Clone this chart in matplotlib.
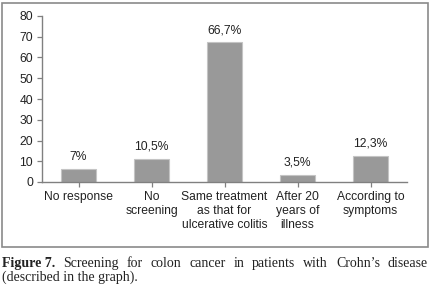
import matplotlib
matplotlib.use("Agg")
import matplotlib.pyplot as plt
from matplotlib.patches import Rectangle

categories = [
    "No response",
    "No\nscreening",
    "Same treatment\nas that for\nulcerative colitis",
    "After 20\nyears of\nillness",
    "According to\nsymptoms",
]
bar_values = [6.3, 11.0, 67.3, 3.4, 12.5]
bar_labels = ["7%", "10,5%", "66,7%", "3,5%", "12,3%"]
y_ticks = [0, 10, 20, 30, 40, 50, 60, 70, 80]
caption_bold = "Figure 7."
caption_line1 = "Screening for colon cancer in patients with Crohn\u2019s disease"
caption_line2 = "(described in the graph)."

W, H = 430, 303
fig = plt.figure(figsize=(W / 100, H / 100), dpi=100)
fig.patch.set_facecolor("white")

sans = ["Liberation Sans", "DejaVu Sans"]
serif = ["Liberation Serif", "DejaVu Serif"]
axis_color = "#808080"

# outer frame
fig.patches.append(Rectangle((2 / W, 1 - 247 / H), 426 / W, 244 / H,
                             transform=fig.transFigure, fill=False,
                             edgecolor="#8a8a8a", linewidth=1.2))

ax = fig.add_axes([42 / W, 1 - 182 / H, 365 / W, 166 / H])
x = range(len(categories))
bars = ax.bar(x, bar_values, width=0.49, color="#999999",
              edgecolor="#c4c4c4", linewidth=0.8)
for xi, v, lab in zip(x, bar_values, bar_labels):
    ax.annotate(lab, (xi, v), xytext=(0, 4.5), textcoords="offset points",
                ha="center", va="bottom", fontsize=8.7, family=sans, color="#222222")

ax.set_xlim(-0.5, len(categories) - 0.5)
ax.set_ylim(0, 80)
ax.set_yticks(y_ticks)
ax.set_xticks(list(x))
ax.set_xticklabels(categories, fontsize=8.7, family=sans, color="#222222",
                   linespacing=1.2)
for t in ax.get_yticklabels():
    t.set_fontsize(8.7)
    t.set_family(sans)
    t.set_color("#222222")
ax.tick_params(axis="y", length=3.5, width=0.9, color=axis_color, pad=3)
ax.tick_params(axis="x", length=3.5, width=0.9, color=axis_color, pad=3)
for s in ["top", "right"]:
    ax.spines[s].set_visible(False)
for s in ["left", "bottom"]:
    ax.spines[s].set_color(axis_color)
    ax.spines[s].set_linewidth(1.0)

# caption, first line justified across the frame width
fig.canvas.draw()
renderer = fig.canvas.get_renderer()
words = [(caption_bold, "bold")] + [(w, "normal") for w in caption_line1.split(" ")]
texts = []
for w, wt in words:
    t = fig.text(0, 0, w, fontsize=10, family=serif, weight=wt, color="#222222",
                 ha="left", va="baseline")
    texts.append(t)
widths = [t.get_window_extent(renderer).width for t in texts]
left, right = 2, 428
gap = (right - left - sum(widths)) / (len(texts) - 1)
pos = left
y1 = 1 - 267 / H
for t, wd in zip(texts, widths):
    t.set_position((pos / W, y1))
    pos += wd + gap
fig.text(left / W, 1 - 281 / H, caption_line2, fontsize=10, family=serif,
         color="#222222", ha="left", va="baseline")

fig.savefig("out.png", dpi=100)
